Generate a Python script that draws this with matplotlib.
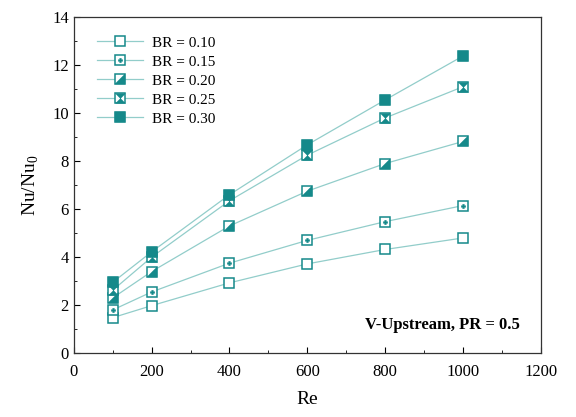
import matplotlib
matplotlib.use("Agg")
import matplotlib.pyplot as plt
from matplotlib.path import Path
from matplotlib.legend_handler import HandlerTuple
from matplotlib.ticker import MultipleLocator

plt.rcParams['font.family'] = ['Liberation Serif', 'DejaVu Serif']
plt.rcParams['mathtext.fontset'] = 'custom'
plt.rcParams['mathtext.rm'] = 'Liberation Serif'

re_vals = [100, 200, 400, 600, 800, 1000]
labels = ['BR = 0.10', 'BR = 0.15', 'BR = 0.20', 'BR = 0.25', 'BR = 0.30']
nu_010 = [1.48, 1.98, 2.93, 3.72, 4.32, 4.80]
nu_015 = [1.80, 2.55, 3.75, 4.70, 5.48, 6.15]
nu_020 = [2.30, 3.40, 5.30, 6.75, 7.90, 8.82]
nu_025 = [2.62, 4.00, 6.35, 8.25, 9.80, 11.10]
nu_030 = [2.95, 4.22, 6.60, 8.68, 10.55, 12.38]

teal = '#15898a'
line_c = '#92cdca'

# inner marker shapes drawn on top of an open square
tri = Path([(-1, -1), (1, -1), (1, 1), (-1, -1)],
           [Path.MOVETO, Path.LINETO, Path.LINETO, Path.CLOSEPOLY])
hourglass = Path([(-1, 1), (1, 1), (0, 0), (1, -1), (-1, -1), (0, 0), (-1, 1)],
                 [Path.MOVETO] + [Path.LINETO] * 5 + [Path.CLOSEPOLY])

ms_sq = 7.0
inner = [None, ('P', 3.2), (tri, ms_sq), (hourglass, ms_sq), ('s', ms_sq)]
series = [nu_010, nu_015, nu_020, nu_025, nu_030]

fig = plt.figure(figsize=(5.76, 4.17), dpi=100)
ax = fig.add_axes([0.128, 0.153, 0.811, 0.806])

handles = []
for ys, lab, inn in zip(series, labels, inner):
    ln, = ax.plot(re_vals, ys, color=line_c, lw=0.9, marker='s', ms=ms_sq,
                  mfc='white', mec=teal, mew=1.1, zorder=2)
    parts = [ln]
    if inn is not None:
        mk, ms = inn
        dot, = ax.plot(re_vals, ys, ls='none', marker=mk, ms=ms,
                       mfc=teal, mec=teal, mew=0.3, zorder=3)
        parts.append(dot)
    handles.append(tuple(parts))

ax.legend(handles, labels, loc='upper left', bbox_to_anchor=(0.02, 0.985),
          frameon=False, fontsize=11, handlelength=3.0, handletextpad=0.6,
          labelspacing=0.35, handler_map={tuple: HandlerTuple(ndivide=1)})

ax.text(0.955, 0.085, 'V-Upstream, PR = 0.5', transform=ax.transAxes,
        ha='right', va='center', fontsize=12, fontweight='bold')

ax.set_xlim(0, 1200)
ax.set_ylim(0, 14)
ax.xaxis.set_major_locator(MultipleLocator(200))
ax.xaxis.set_minor_locator(MultipleLocator(100))
ax.yaxis.set_major_locator(MultipleLocator(2))
ax.yaxis.set_minor_locator(MultipleLocator(1))
ax.tick_params(which='both', direction='in', labelsize=12, top=False, right=False)
ax.tick_params(which='major', length=4)
ax.tick_params(which='minor', length=2)
ax.tick_params(axis='x', pad=8)
for s in ax.spines.values():
    s.set_linewidth(0.9)
    s.set_color('#333333')

ax.set_xlabel('Re', fontsize=14, labelpad=8)
ax.set_ylabel(r'Nu/Nu$_0$', fontsize=14, labelpad=8)

fig.savefig('out.png', dpi=100)
